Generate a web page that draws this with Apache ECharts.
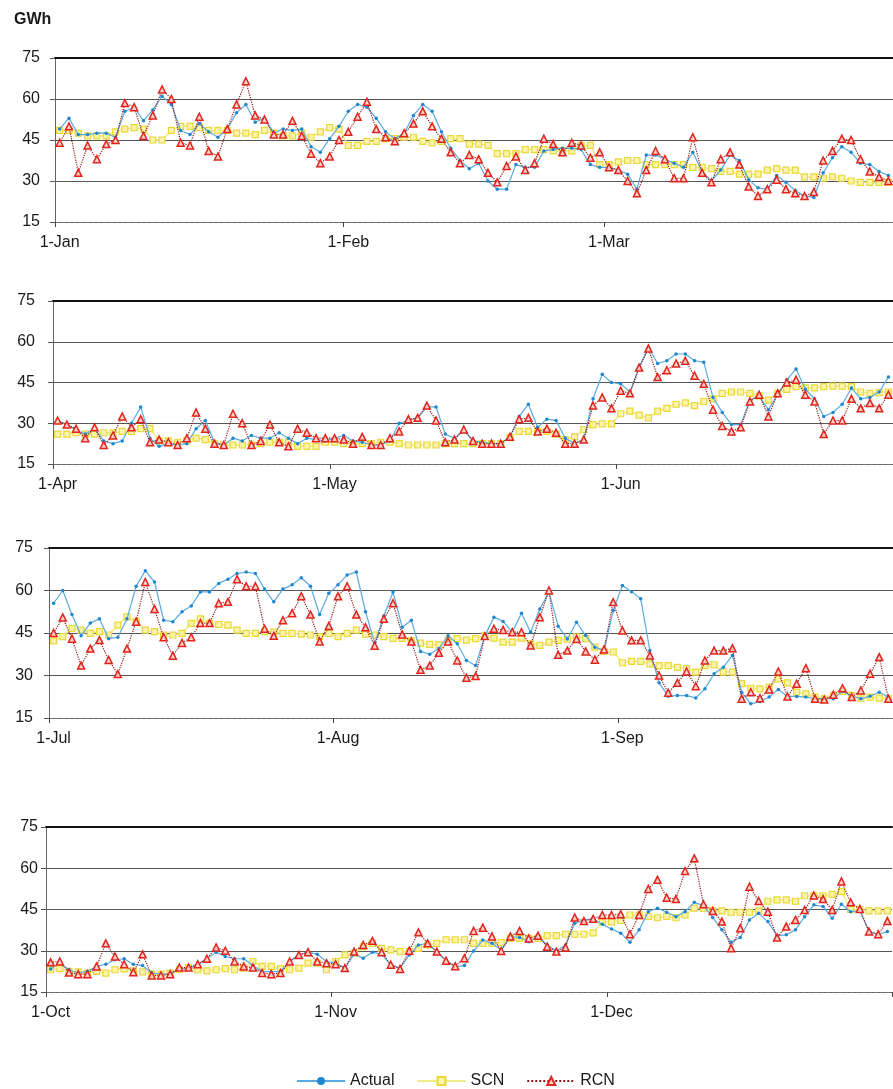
<!DOCTYPE html>
<html>
<head>
<meta charset="utf-8">
<title>GWh</title>
<script src="https://cdn.jsdelivr.net/npm/echarts@6/dist/echarts.min.js"></script>
<style>
  html, body { margin: 0; padding: 0; background: #fff; }
  #main { width: 893px; height: 1089px; }
</style>
</head>
<body>
<div id="main"></div>
<script>
// 月份与天数（用于生成每日类目）
var monthNames = ['Jan','Feb','Mar','Apr','May','Jun','Jul','Aug','Sep','Oct','Nov','Dec'];
var monthDays  = [31, 28, 31, 30, 31, 30, 31, 31, 30, 31, 30, 31];

// 每个面板的月份刻度标签
var q1Ticks = ['1-Jan', '1-Feb', '1-Mar'];
var q2Ticks = ['1-Apr', '1-May', '1-Jun'];
var q3Ticks = ['1-Jul', '1-Aug', '1-Sep'];
var q4Ticks = ['1-Oct', '1-Nov', '1-Dec'];

var yTicks = [15, 30, 45, 60, 75];

// Q1 数据
var actualQ1 = [49,53,47,47,47.5,47.5,46,55.5,57,52,56,61,58,48.5,47,51,48,46,49,55,58,51.5,53,47.5,49,48.5,49,42.5,40.5,45.5,
  50,55.5,58,57,53,48,45.5,47.5,54,58,55.5,48,42,37.5,34.5,36.5,30,27,27,36,35,35,41,41.5,42,42,41.5,36,35,35,
  34,32.5,27,39.5,39.5,38,36.5,35,40.5,33.5,30,34,39.5,37.5,30.5,27.5,27,32,29.5,26.5,24.5,24,33,38.5,42.5,40.5,36.5,36,33.5,32];
var scnQ1 = [48.5,48.5,47.5,46.5,46.5,46.5,48,49,49.5,49,45,45,48.5,50,50,49.5,48.5,48.5,48.5,47.5,47.5,47,48.5,47.5,46.5,46.5,47.5,46,48,49.5,
  49,43,43,44.5,44.5,45.5,45.5,46,46,44.5,44,44.5,45.5,45.5,43.5,43.5,43,40,40,40,41.5,41.5,41.5,41,41,41,43,43,36,36,
  37,37.5,37.5,36,36,36,36,36,35,35,34.5,33.5,33.5,32.5,32.5,32.5,34,34.5,34,34,31.5,31.5,31,31.5,31,30,29.5,29.5,29.5,29.5];
var rcnQ1 = [44,50,33,43,38,43.5,45,58.5,57,46.5,54,63.5,60,44,43,53.5,41,39,49,58,66.5,54,52.5,47,47,52,46.5,40,36.5,39,
  45,48,53.5,59,49,46,44.5,47.5,51,55.5,50,45.5,40.5,36.5,39.5,38,33,29.5,35.5,39,34,36.5,45.5,43.5,40.5,44,43,38.5,40.5,35,
  34,30,25.5,34,41,38,31,31,46,33,29.5,38,40.5,36,28,24.5,27,30.5,27,25.5,24.5,26,37.5,41,45.5,45,38,33.5,31.5,30];

// Q2 数据
var actualQ2 = [31,29.5,27.5,26,28,23.5,22.5,23.5,30,36,24.5,21.5,22.5,22,22.5,28,31,23,22,24.5,23.5,25.5,24.5,24.5,26.5,24.5,22.5,24.5,24,23.5,
  24.5,25.5,23.5,23,22,22,23.5,30,31,32,36,36,26,24.5,27.5,23.5,23,22.5,22.5,25,32.5,37,28.5,31.5,31,24.5,22.5,24,39,48,
  45,44.5,41.5,50.5,58,52,53,55.5,55.5,53,52.5,39.5,34,29.5,29.5,38.5,40,35,40.5,46,50,42.5,39,32.5,34,37,43,39,39.5,41.5,47];
var scnQ2 = [26,26,26.5,26,26,26.5,26.5,27,27,28,28,23.5,23.5,23,23.5,24.5,24,22.5,22,22,22,22,22.5,23,23,23,21.5,21.5,21.5,23,
  23,22.5,22.5,22.5,22.5,23,23,22.5,22,22,22,22,22.5,22.5,22.5,22.5,22.5,22.5,22.5,24.7,27,27,27,27,26,24,25,27.7,29.5,29.8,
  29.8,33.5,34.5,33,32,34.5,35.5,37,37.5,36.5,38,39,41,41.5,41.5,41,40,38.5,41,42.5,43.5,43,43,43.5,43.7,43.7,43.5,41.5,41,41.3,41.5];
var rcnQ2 = [31,29.5,28,24.5,28.5,22,25.5,32.5,28.5,31.5,23,24,23,22,24.5,34,28,22.5,22,33.5,30,22,23.5,29.5,23,21.5,28,26.5,24.5,24.5,
  24.5,24,22.5,25,22,22,24.5,27,31.5,32,36.5,31,23,24,27.7,23.5,22.5,22.5,22.5,25,31.5,32,27,28,26.5,22.5,22.5,24,36.5,39.5,
  35.5,42,41,50.5,57.5,47,49.5,52,53,47.5,44.5,35,29,27,28.5,38,40.5,32.5,41,45,46,40.5,38,26,31,31,39,35.5,37.5,35.5,40.5];

// Q3 数据
var actualQ3 = [55.5,60,51.5,44,48.5,50,43,43.5,50,61.5,67,63,49.5,49,52.5,54.5,59.5,59.5,62.5,64,66,66.5,66,60.5,56,60.5,62,64.5,61.5,51.5,
  59,62,65.5,66.5,52.5,41.5,51,59.5,47,49.5,38.5,37.5,39.5,44,41.2,35.3,33.5,43.9,50.6,49.1,45.3,52,45.3,53.5,59.4,47.4,42.9,48.8,44.1,40,
  38.8,52.9,61.8,59.6,57.1,38.8,27.4,22.7,22.9,22.9,22.1,25.3,30.6,32.9,37.1,24.1,20,20.8,22.4,25.1,22.6,22.6,22.4,21.8,21.8,21.8,24.4,22.7,21.8,22.7,
  24.1,22.4];
var scnQ3 = [42.2,43.7,46.6,46,44.9,45.5,44.3,47.8,50.7,49,46,45.5,44.3,44.3,44.9,48.4,50,48.4,48,47.8,46,44.9,44.9,45.5,45.3,44.9,44.9,44.6,44.3,43.7,
  44.9,43.7,44.9,46,44.6,44.3,43.7,43.1,43.1,42.2,41.4,41,40.8,42.5,43,42.5,43,44.1,43.2,41.8,41.8,43.2,41.2,40.6,41.8,42.4,42.8,43.6,43,40,
  38.5,38.3,34.5,35,35,34.1,33.5,33.5,32.9,32.4,31.2,33.5,33.8,31.2,31.2,27.1,25.5,25.3,25.9,28.8,27.4,24.1,23.5,22.4,21.8,23,24.4,23,21.8,22.4,
  22,21.8];
var rcnQ3 = [45,50.5,43,33.5,39.5,42.5,35.5,30.5,39.5,49,63,53.5,43.5,37,41.5,43.5,48.5,48.5,55.5,56,64,61.5,61.5,46.5,44,49.5,52,58,51.5,42,
  47.5,58,61.5,51.5,47,40.5,50,55.5,44.5,42,32,33.5,38,42,35.3,29.2,29.8,43.9,46.5,46.1,45.3,45.3,40.6,50.6,60,37.3,38.8,42.9,38.5,35.6,
  39.2,55.9,45.9,42.4,42.4,37.1,30,23.9,27.4,31.4,26.2,35.3,38.8,38.8,39.6,21.8,24.1,22,25.1,31.4,22.6,27.1,32.6,21.8,21.5,23.2,25.5,22.4,24.7,30.6,
  36.5,21.8];

// Q4 数据
var actualQ4 = [23.4,25.5,23.1,21.9,22.5,24.3,25.1,26.7,27.1,25.1,24.6,21.9,21.5,21.5,23.4,23.4,24.9,27.1,29.5,27.9,27.1,27.1,24.6,22.5,22.3,22.5,26.1,28.5,29.5,28.7,
  26.1,25.5,23.7,28.7,27.3,29.5,28.7,24.9,23.7,28.5,32.1,32.7,29.7,26.5,24.2,24.6,29.9,33.9,32.7,30.3,35.2,34.8,33.3,35.2,32.1,29.9,32.1,40,41.2,41.6,
  39.6,37.9,36.4,33.1,37.6,44.2,45.5,44,42.4,44.2,47.6,46.4,42.1,37.6,33.1,34.8,41.2,43.6,40.6,35.5,35.8,37.6,42.4,46.7,46.1,41.8,46.9,44.2,44.5,37,
  36,37];
var scnQ4 = [23.1,23.5,22.5,22.3,21.9,22.5,21.9,23.1,23.4,22.7,22.3,21.5,21.5,21.9,23.1,23.9,23.1,22.7,23.1,23.5,23.1,23.7,26.1,24.3,24.3,23.5,23.1,23.7,25.5,25.5,
  23.1,26.1,28.5,29.1,31.5,32.7,30.9,30.3,29.7,29.7,30.9,32.1,32.7,34,34,34,32.7,32.7,32.7,33,34.5,34.5,34.5,34.5,35.5,35.5,36,36,36,36.5,
  40.5,40.5,41,43,43,42.5,42,42.5,42,43,45.5,45.5,44.5,44.5,44,44,44,44.5,48,48.5,48.5,48,50,50,50,50.5,51.5,45,45,44.5,
  44.5,44.5];
var rcnQ4 = [25.8,26.1,22.1,21.5,21.5,24.3,32.7,27.9,25.1,22.2,28.7,21,21,21.5,23.9,23.9,25.1,27.1,31.2,30,26.1,24.3,23.9,21.9,21.5,21.9,26.1,28.5,29.5,26.1,
  25.5,25.1,23.7,29.7,32.1,33.6,29.5,24.9,23.4,30,36.7,32.7,29.7,26.4,24.4,27.3,37.2,38.4,35.2,29.9,35.2,37.2,34.5,35.5,31.5,29.7,31.2,42.1,40.8,41.6,
  43,43,43.3,36,43,52.5,55.8,49.3,48.8,59,63.6,46.9,44.5,40.6,30.9,38.2,53.3,48.1,44.2,34.8,38.8,41.2,44.8,50.1,48.8,44.8,55.2,47.6,45.2,37,
  36,40.8];

// 生成某季度的每日类目，如 '1-Jan', '2-Jan' ...
function dayLabels(firstMonth) {
    var out = [];
    for (var m = firstMonth; m < firstMonth + 3; m++) {
        for (var d = 1; d <= monthDays[m]; d++) {
            out.push(d + '-' + monthNames[m]);
        }
    }
    return out;
}

var panels = [
    { cats: dayLabels(0), ticks: q1Ticks, actual: actualQ1, scn: scnQ1, rcn: rcnQ1,
      grid: { left: 55, top: 58, height: 164, right: -10 }, yMargin: 15 },
    { cats: dayLabels(3), ticks: q2Ticks, actual: actualQ2, scn: scnQ2, rcn: rcnQ2,
      grid: { left: 53, top: 301, height: 163, right: -4 }, yMargin: 18 },
    { cats: dayLabels(6), ticks: q3Ticks, actual: actualQ3, scn: scnQ3, rcn: rcnQ3,
      grid: { left: 49, top: 548, height: 170, right: -2 }, yMargin: 16 },
    { cats: dayLabels(9), ticks: q4Ticks, actual: actualQ4, scn: scnQ4, rcn: rcnQ4,
      grid: { left: 46, top: 827, height: 165, right: 1 }, yMargin: 8 }
];

var textColor = '#1a1a1a';
var grids = [], xAxes = [], yAxes = [], series = [];

panels.forEach(function (p, k) {
    grids.push(p.grid);

    var isTick = function (idx, value) { return p.ticks.indexOf(value) >= 0; };

    // 底部日期轴
    xAxes.push({
        gridIndex: k,
        type: 'category',
        data: p.cats,
        boundaryGap: true,
        axisLine: { lineStyle: { color: '#777', width: 1, type: [4, 2] } },
        axisTick: { show: true, interval: isTick, length: 5, lineStyle: { color: '#444' } },
        axisLabel: { interval: isTick, margin: 13, color: textColor, fontSize: 16,
                     fontFamily: 'Liberation Sans, Arial, sans-serif' },
        splitLine: { show: false }
    });
    // 顶部黑色边框
    xAxes.push({
        gridIndex: k,
        type: 'category',
        data: p.cats,
        position: 'top',
        axisLine: { lineStyle: { color: '#111', width: 2 } },
        axisTick: { show: false },
        axisLabel: { show: false },
        splitLine: { show: false }
    });

    yAxes.push({
        gridIndex: k,
        type: 'value',
        min: yTicks[0],
        max: yTicks[yTicks.length - 1],
        interval: 15,
        axisLine: { show: true, lineStyle: { color: '#666' } },
        axisTick: { show: true, length: 5, lineStyle: { color: '#555' } },
        axisLabel: { margin: p.yMargin, color: textColor, fontSize: 16,
                     fontFamily: 'Liberation Sans, Arial, sans-serif' },
        splitLine: { show: true, lineStyle: { color: '#555', width: 1 } }
    });

    // SCN 放在最底层
    series.push({
        name: 'SCN', type: 'line', xAxisIndex: 2 * k, yAxisIndex: k,
        data: p.scn, z: 2, showAllSymbol: true,
        symbol: 'rect', symbolSize: 6,
        lineStyle: { color: '#f3ea86', width: 1.5 },
        itemStyle: { color: '#faf3a8', borderColor: '#e9d83a', borderWidth: 1.2 }
    });
    series.push({
        name: 'Actual', type: 'line', xAxisIndex: 2 * k, yAxisIndex: k,
        data: p.actual, z: 3, showAllSymbol: true,
        symbol: 'circle', symbolSize: 3.5,
        lineStyle: { color: '#5aaae0', width: 1.2 },
        itemStyle: { color: '#1f86d0' }
    });
    series.push({
        name: 'RCN', type: 'line', xAxisIndex: 2 * k, yAxisIndex: k,
        data: p.rcn, z: 4, showAllSymbol: true,
        symbol: 'triangle', symbolSize: 7,
        lineStyle: { color: '#8e1b1b', width: 1.2, type: 'dotted' },
        itemStyle: { color: '#fbd0c8', borderColor: '#e3241c', borderWidth: 1.5 }
    });
});

var chart = echarts.init(document.getElementById('main'));

var option = {
    animation: false,
    backgroundColor: '#fff',
    graphic: [{
        type: 'text', left: 14, top: 12,
        style: { text: 'GWh', fontSize: 16, fontWeight: 'bold', fill: textColor,
                 fontFamily: 'Liberation Sans, Arial, sans-serif' }
    }],
    legend: {
        data: ['Actual', 'SCN', 'RCN'],
        left: 291, top: 1068,
        itemWidth: 48, itemHeight: 10, itemGap: 22,
        textStyle: { color: textColor, fontSize: 16, fontFamily: 'Liberation Sans, Arial, sans-serif' }
    },
    grid: grids,
    xAxis: xAxes,
    yAxis: yAxes,
    series: series
};

chart.setOption(option);
</script>
</body>
</html>
